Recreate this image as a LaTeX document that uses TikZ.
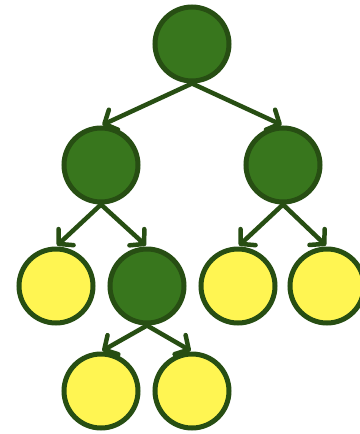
\documentclass[tikz,border=0pt]{standalone}
\usetikzlibrary{arrows.meta}
\definecolor{dgreen}{HTML}{38761D}
\definecolor{edgegreen}{HTML}{274E13}
\definecolor{leafyellow}{HTML}{FFF552}
\begin{document}
\begin{tikzpicture}[x=1pt,y=-1pt,
  inner/.style={circle,draw=edgegreen,fill=dgreen,line width=5pt,minimum size=74pt,inner sep=0pt},
  leaf/.style={circle,draw=edgegreen,fill=leafyellow,line width=5pt,minimum size=74pt,inner sep=0pt},
  edge/.style={draw=edgegreen,line width=4.5pt,line cap=round,
    -{Straight Barb[length=10pt,width=22pt,round]},shorten >=1.5pt}]
\useasboundingbox[fill=white] (0,0) rectangle (359,434);
\node[inner] (r) at (192,44) {};
\node[inner] (a) at (101,165) {};
\node[inner] (b) at (283,165) {};
\node[leaf] (c) at (56,286) {};
\node[inner] (d) at (147,286) {};
\node[leaf] (e) at (238,286) {};
\node[leaf] (f) at (327,286) {};
\node[leaf] (g) at (101,391) {};
\node[leaf] (h) at (192,391) {};
\draw[edge] (r.south) -- (a.north);
\draw[edge] (r.south) -- (b.north);
\draw[edge] (a.south) -- (c.north);
\draw[edge] (a.south) -- (d.north);
\draw[edge] (b.south) -- (e.north);
\draw[edge] (b.south) -- (f.north);
\draw[edge] (d.south) -- (g.north);
\draw[edge] (d.south) -- (h.north);
\end{tikzpicture}
\end{document}
